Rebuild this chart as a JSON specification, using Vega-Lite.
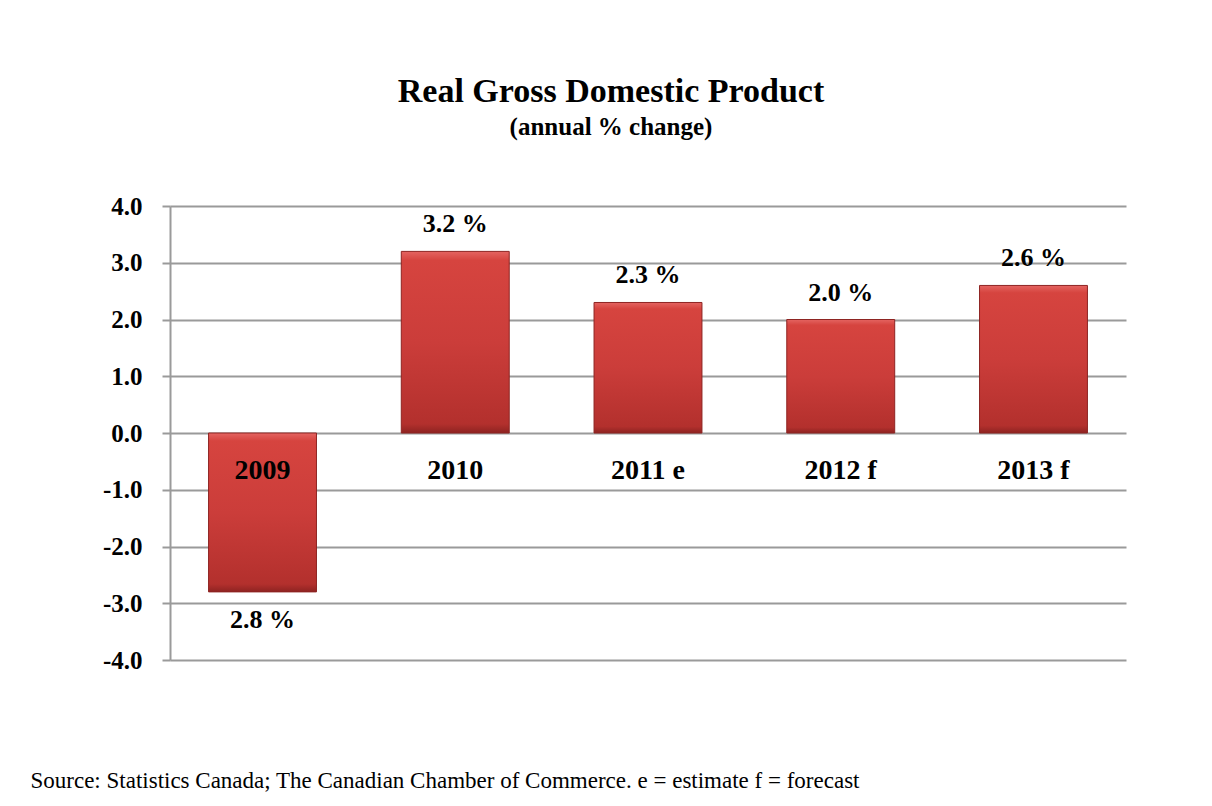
{
  "$schema": "https://vega.github.io/schema/vega-lite/v6.json",
  "width": 956,
  "height": 454,
  "autosize": {"type": "none"},
  "padding": {"left": 170, "top": 206, "right": 86, "bottom": 146},
  "background": "white",
  "config": {
    "view": {"stroke": null},
    "font": "Liberation Serif"
  },
  "title": {
    "text": "Real Gross Domestic Product",
    "subtitle": "(annual % change)",
    "anchor": "middle",
    "frame": "group",
    "dx": -37,
    "offset": 54,
    "font": "Liberation Serif",
    "fontSize": 34,
    "fontWeight": "bold",
    "color": "black",
    "subtitleFont": "Liberation Serif",
    "subtitleFontSize": 25,
    "subtitleFontWeight": "bold",
    "subtitleColor": "black",
    "subtitlePadding": 6
  },
  "data": {
    "values": [
      {"year": "2009", "value": -2.8, "label": "2.8 %"},
      {"year": "2010", "value": 3.2, "label": "3.2 %"},
      {"year": "2011 e", "value": 2.3, "label": "2.3 %"},
      {"year": "2012 f", "value": 2.0, "label": "2.0 %"},
      {"year": "2013 f", "value": 2.6, "label": "2.6 %"}
    ]
  },
  "encoding": {
    "x": {
      "field": "year",
      "type": "nominal",
      "sort": null,
      "scale": {"paddingInner": 0.44, "paddingOuter": 0.2},
      "axis": {
        "orient": "bottom",
        "labels": false,
        "ticks": false,
        "domain": false,
        "grid": false,
        "title": "Source: Statistics Canada; The Canadian Chamber of Commerce. e = estimate f = forecast",
        "titleFont": "Liberation Serif",
        "titleFontSize": 23,
        "titleFontWeight": "normal",
        "titleColor": "black",
        "titleAnchor": "start",
        "titleAlign": "left",
        "titleBaseline": "alphabetic",
        "titleX": -140,
        "titleY": 127
      }
    }
  },
  "layer": [
    {
      "mark": {
        "type": "bar",
        "stroke": "#8e2422",
        "strokeWidth": 1,
        "color": {
          "gradient": "linear",
          "x1": 0, "y1": 0, "x2": 0, "y2": 1,
          "stops": [
            {"offset": 0, "color": "#e46461"},
            {"offset": 0.05, "color": "#d6443f"},
            {"offset": 0.5, "color": "#cb3d3a"},
            {"offset": 0.95, "color": "#b3302d"},
            {"offset": 1, "color": "#8e2321"}
          ]
        }
      },
      "encoding": {
        "y": {
          "field": "value",
          "type": "quantitative",
          "scale": {"domain": [-4, 4], "nice": false, "zero": false},
          "axis": {
            "values": [-4, -3, -2, -1, 0, 1, 2, 3, 4],
            "labelExpr": "(datum.value < 0 ? '-' : '') + format(abs(datum.value), '.1f')",
            "title": null,
            "grid": true,
            "gridColor": "#9a9a9a",
            "gridWidth": 2,
            "domainColor": "#9a9a9a",
            "domainWidth": 2,
            "tickColor": "#9a9a9a",
            "tickWidth": 2,
            "tickSize": 8,
            "labelFont": "Liberation Serif",
            "labelFontSize": 25,
            "labelFontWeight": "bold",
            "labelColor": "black",
            "labelPadding": 20
          }
        }
      }
    },
    {
      "mark": {"type": "text", "font": "Liberation Serif", "fontSize": 28, "fontWeight": "bold", "color": "black", "baseline": "middle", "dy": 38},
      "encoding": {
        "y": {"datum": 0, "type": "quantitative"},
        "text": {"field": "year"}
      }
    },
    {
      "transform": [{"filter": "datum.value > 0"}],
      "mark": {"type": "text", "font": "Liberation Serif", "fontSize": 26, "fontWeight": "bold", "color": "black", "baseline": "middle", "dy": -27},
      "encoding": {
        "y": {"field": "value", "type": "quantitative"},
        "text": {"field": "label"}
      }
    },
    {
      "transform": [{"filter": "datum.value < 0"}],
      "mark": {"type": "text", "font": "Liberation Serif", "fontSize": 26, "fontWeight": "bold", "color": "black", "baseline": "middle", "dy": 28},
      "encoding": {
        "y": {"field": "value", "type": "quantitative"},
        "text": {"field": "label"}
      }
    }
  ]
}
